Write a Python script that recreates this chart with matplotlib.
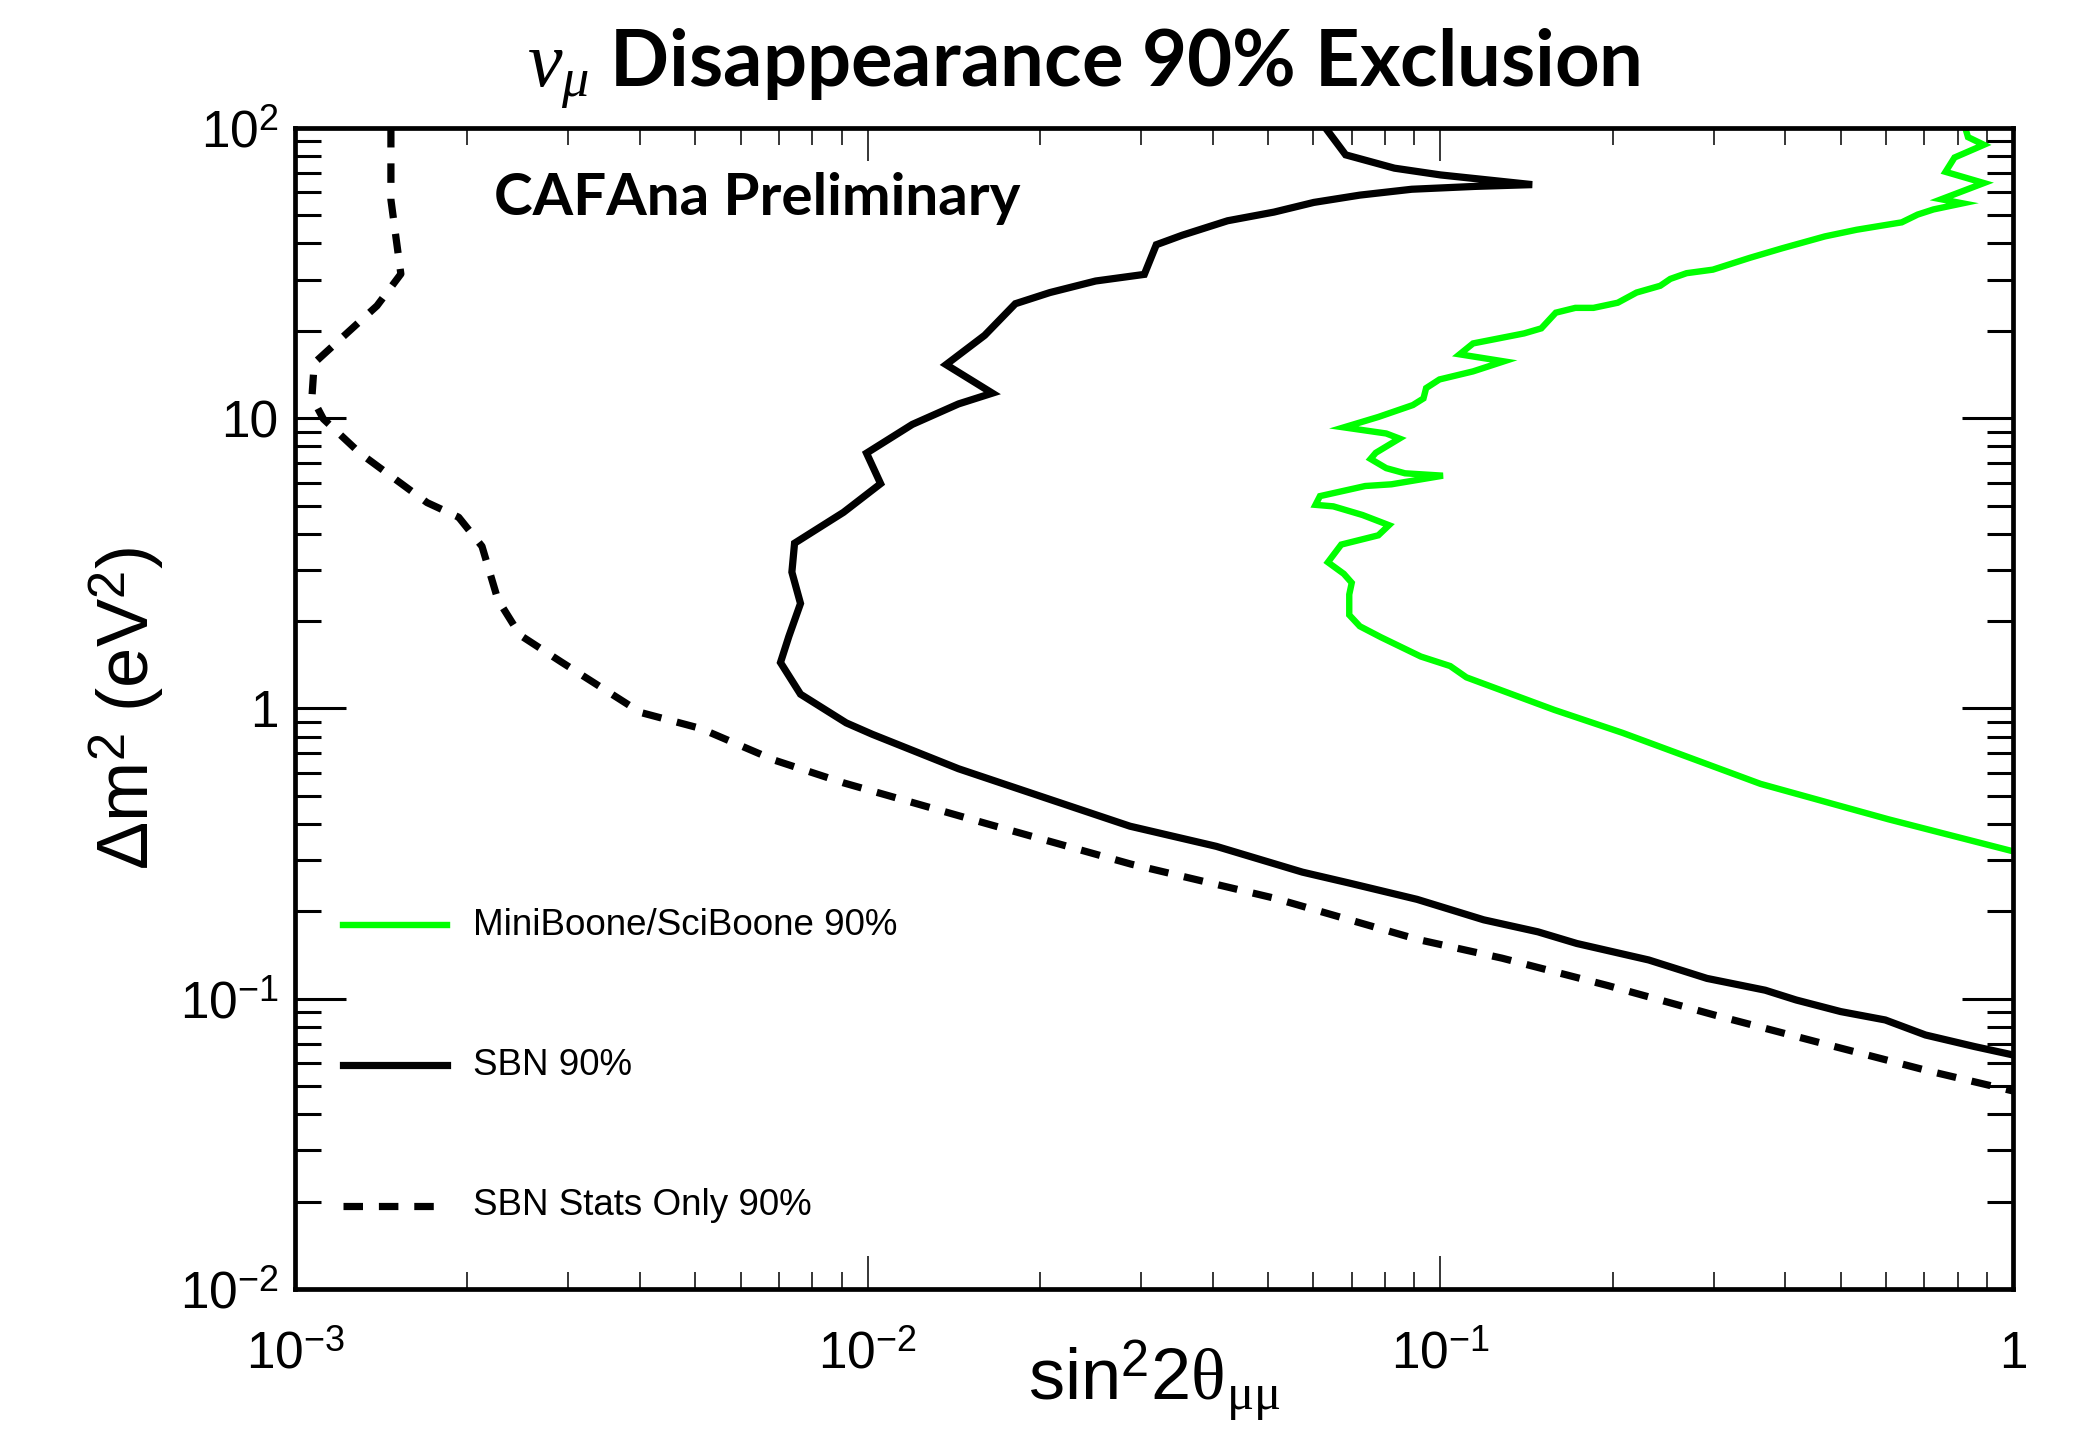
import matplotlib
matplotlib.use("Agg")
import matplotlib.pyplot as plt
from matplotlib.ticker import LogLocator, NullFormatter

plt.rcParams["font.family"] = ["Liberation Sans", "DejaVu Sans"]
plt.rcParams["mathtext.fontset"] = "custom"
plt.rcParams["mathtext.rm"] = "Liberation Sans"
plt.rcParams["mathtext.it"] = "Liberation Serif:italic"
plt.rcParams["mathtext.sf"] = "Liberation Serif"

# MiniBooNE/SciBooNE 90% contour: sin^2(2theta), dm^2 (eV^2)
mb_sin = [0.825, 0.834, 0.889, 0.790, 0.762, 0.889, 0.749, 0.816, 0.726, 0.681,
          0.639, 0.533, 0.469, 0.395, 0.347, 0.299, 0.269, 0.252, 0.242, 0.220,
          0.204, 0.185, 0.172, 0.159, 0.150, 0.140, 0.114, 0.108, 0.129, 0.114,
          0.0996, 0.0944, 0.0934, 0.0895, 0.0779, 0.0678, 0.0804, 0.0848, 0.0771, 0.0755,
          0.0804, 0.0867, 0.101, 0.0821, 0.0739, 0.0616, 0.0605, 0.0650, 0.0731, 0.0813,
          0.0779, 0.0671, 0.0636, 0.0678, 0.0700, 0.0693, 0.0693, 0.0723, 0.0787, 0.0924,
          0.104, 0.111, 0.158, 0.208, 0.362, 0.606, 1.0]
mb_dm2 = [100, 93.0, 87.5, 79.1, 70.6, 64.6, 56.8, 55.0, 52.4, 50.3,
          47.3, 44.6, 42.3, 38.5, 35.7, 32.5, 31.6, 30.2, 28.6, 27.1,
          25.0, 24.0, 24.0, 23.1, 20.4, 19.6, 18.1, 16.6, 15.7, 14.5,
          13.6, 12.7, 11.7, 11.1, 10.1, 9.30, 8.86, 8.51, 7.60, 7.24,
          6.73, 6.46, 6.34, 5.92, 5.84, 5.39, 5.03, 4.97, 4.64, 4.28,
          3.95, 3.67, 3.19, 2.91, 2.71, 2.47, 2.10, 1.92, 1.76, 1.51,
          1.40, 1.28, 0.989, 0.824, 0.550, 0.415, 0.322]

# SBN 90% contour
sbn_sin = [0.0630, 0.0683, 0.0831, 0.100, 0.1446, 0.1148, 0.0891, 0.0723, 0.0601, 0.0512,
           0.0425, 0.0354, 0.0319, 0.0304, 0.0250, 0.0208, 0.0181, 0.0160, 0.0137, 0.0165,
           0.0144, 0.01196, 0.00995, 0.01053, 0.00907, 0.00745, 0.00737, 0.00763, 0.00728, 0.00704,
           0.00763, 0.00917, 0.01018, 0.0144, 0.0203, 0.0287, 0.0406, 0.0574, 0.0695, 0.0910,
           0.119, 0.148, 0.173, 0.231, 0.292, 0.369, 0.418, 0.500, 0.598, 0.703,
           0.857, 1.0]
sbn_dm2 = [100, 80.8, 72.7, 68.9, 63.8, 62.9, 61.5, 58.7, 55.4, 51.3,
           47.9, 42.7, 39.6, 31.3, 29.7, 27.1, 24.8, 19.3, 15.3, 12.2,
           11.2, 9.52, 7.58, 5.95, 4.74, 3.71, 2.95, 2.30, 1.77, 1.44,
           1.12, 0.892, 0.815, 0.620, 0.494, 0.393, 0.335, 0.273, 0.250, 0.220,
           0.187, 0.170, 0.155, 0.136, 0.1175, 0.107, 0.0990, 0.0903, 0.0845, 0.0750,
           0.0684, 0.0640]

# SBN stats-only 90% contour
stat_sin = [0.00147, 0.00147, 0.00153, 0.00139, 0.00108, 0.00107, 0.00112, 0.00130, 0.00170, 0.00193,
            0.00212, 0.00226, 0.00247, 0.00291, 0.00401, 0.00510, 0.00688, 0.00908, 0.0162, 0.0288,
            0.0513, 0.0913, 0.128, 0.196, 0.302, 0.463, 0.714, 1.0]
stat_dm2 = [100, 56.6, 31.4, 24.4, 15.5, 11.8, 9.95, 7.56, 5.12, 4.56,
            3.62, 2.37, 1.79, 1.45, 0.969, 0.854, 0.663, 0.554, 0.400, 0.291,
            0.222, 0.160, 0.138, 0.111, 0.0877, 0.0703, 0.0563, 0.0481]

labels = ["MiniBoone/SciBoone 90%", "SBN 90%", "SBN Stats Only 90%"]
xticks = [1e-3, 1e-2, 1e-1, 1]
xticklabels = [r"$10^{-3}$", r"$10^{-2}$", r"$10^{-1}$", "1"]
yticks = [1e-2, 1e-1, 1, 10, 100]
yticklabels = [r"$10^{-2}$", r"$10^{-1}$", "1", "10", r"$10^{2}$"]

fig = plt.figure(figsize=(20.84, 14.33), dpi=100)
ax = fig.add_axes([0.1416, 0.1005, 0.8244, 0.8102])

styles = [
    dict(color="#00ff00", lw=4.6, ls="-"),
    dict(color="black", lw=5.2, ls="-"),
    dict(color="black", lw=5.2, ls=(0, (2.7, 2.2))),
]
curves = [(mb_sin, mb_dm2), (sbn_sin, sbn_dm2), (stat_sin, stat_dm2)]
for (xs, ys), st in zip(curves, styles):
    ax.plot(xs, ys, solid_joinstyle="miter", **st)

ax.set_xscale("log")
ax.set_yscale("log")
ax.set_xlim(1e-3, 1)
ax.set_ylim(1e-2, 1e2)

ax.set_xticks(xticks)
ax.set_xticklabels(xticklabels)
ax.set_yticks(yticks)
ax.set_yticklabels(yticklabels)
ax.xaxis.set_minor_locator(LogLocator(base=10, subs=range(2, 10), numticks=20))
ax.yaxis.set_minor_locator(LogLocator(base=10, subs=range(2, 10), numticks=20))
ax.xaxis.set_minor_formatter(NullFormatter())
ax.yaxis.set_minor_formatter(NullFormatter())

ax.tick_params(which="both", direction="in", top=True, right=True, labelsize=37)
ax.tick_params(axis="x", which="major", length=24, width=1.1, pad=57)
ax.tick_params(axis="x", which="minor", length=12, width=1.1)
ax.tick_params(axis="y", which="major", length=37, width=2.2, pad=12)
ax.tick_params(axis="y", which="minor", length=18.5, width=2.2)
plt.setp(ax.get_xticklabels(), va="baseline")

for sp in ax.spines.values():
    sp.set_linewidth(3.4)

ax.set_xlabel(r"sin$^{2}$2$\mathsf{\theta}_{\mathsf{\mu\mu}}$", fontsize=52)
ax.xaxis.label.set_va("baseline")
ax.xaxis.set_label_coords(0.5, -0.0955)
ax.set_ylabel(r"$\Delta$m$^{2}$ (eV$^{2}$)", fontsize=52)
ax.yaxis.set_label_coords(-0.0745, 0.5)

# legend drawn by hand, ROOT style
leg_y = [0.3135, 0.1925, 0.0715]
for lab, st, y in zip(labels, styles, leg_y):
    ax.plot([0.0279, 0.0882], [y, y], transform=ax.transAxes, clip_on=False, **st)
    ax.text(0.1036, y, lab, transform=ax.transAxes, fontsize=26.5, va="center")

ax.text(0.1158, 0.925, "CAFAna Preliminary", transform=ax.transAxes,
        fontsize=42, fontfamily="Lato", fontweight="bold", va="baseline")

fig.text(0.52, 0.94, r"$\nu_{\mu}$ Disappearance 90% Exclusion", ha="center", va="baseline",
         fontsize=56, fontfamily="Lato", fontweight="bold")

fig.savefig("out.png", dpi=100)
